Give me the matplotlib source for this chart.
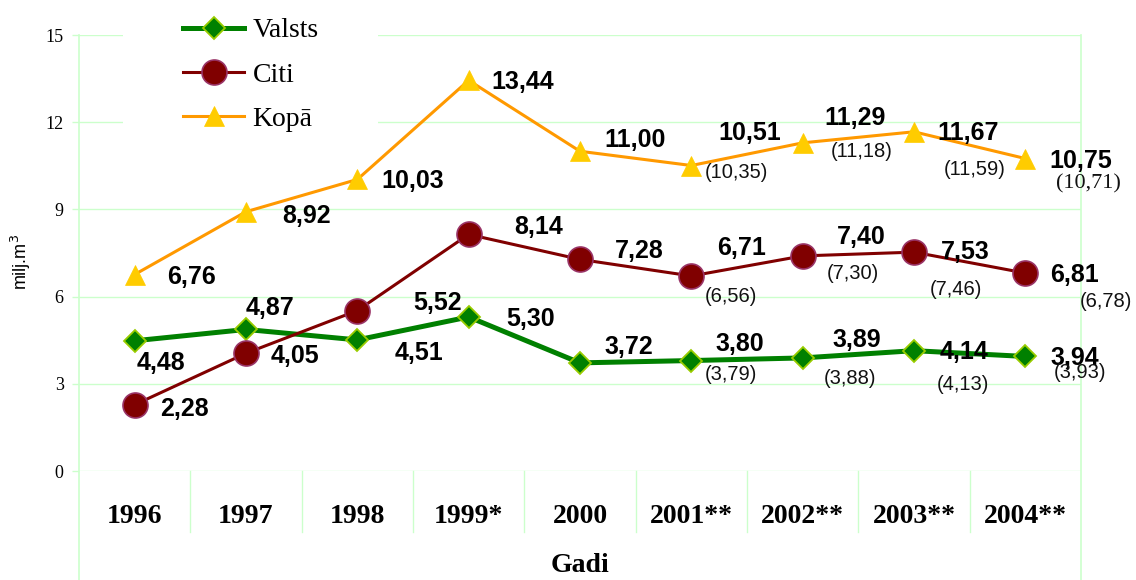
import numpy as np
import matplotlib
matplotlib.use('Agg')
import matplotlib.pyplot as plt
from matplotlib.patches import Rectangle

# dati
gadi = ['1996', '1997', '1998', '1999*', '2000', '2001**', '2002**', '2003**', '2004**']
valsts = [4.48, 4.87, 4.51, 5.30, 3.72, 3.80, 3.89, 4.14, 3.94]
citi = [2.28, 4.05, 5.52, 8.14, 7.28, 6.71, 7.40, 7.53, 6.81]
kopa = [6.76, 8.92, 10.03, 13.44, 11.00, 10.51, 11.29, 11.67, 10.75]
# vertibas iekavas (2001-2004)
valsts_iek = [None, None, None, None, None, 3.79, 3.88, 4.13, 3.93]
citi_iek = [None, None, None, None, None, 6.56, 7.30, 7.46, 6.78]
kopa_iek = [None, None, None, None, None, 10.35, 11.18, 11.59, 10.71]

# uzrakstu nobidijumi (pikseli)
off_valsts = [(26, -22), (24, 21), (62, -13), (62, -2), (49, 16), (48, 17), (54, 18), (50, -1), (49, -2)]
off_citi = [(50, -4), (49, -3), (80, 8), (70, 7), (59, 8), (50, 28), (59, 19), (51, 0), (49, -2)]
off_kopa = [(57, -2), (61, -4), (55, -2), (54, -2), (55, 11), (58, 33), (52, 25), (54, -1), (55, -2)]
off_valsts_iek = [None] * 5 + [(40, -14), (47, -20), (49, -34), (55, -16)]
off_citi_iek = [None] * 5 + [(40, -16), (50, -15), (42, -35), (81, -28)]
off_kopa_iek = [None] * 5 + [(45, -2), (59, -5), (61, -35), (63, -24)]

grid_c = '#ccffcc'

fig = plt.figure(figsize=(11.36, 5.8), dpi=100)
ax = fig.add_axes([79 / 1136, 1 - 471 / 580, 1002 / 1136, 436 / 580])

x = np.arange(len(gadi))

ax.plot(x, valsts, color='#008000', lw=3.6, marker='D', ms=11.5, mfc='#008000',
        mec='#99cc00', mew=1.3, label='Valsts', zorder=3)
ax.plot(x, citi, color='#800000', lw=2.2, marker='o', ms=18, mfc='#800000',
        mec='#993366', mew=1.2, label='Citi', zorder=3)
ax.plot(x, kopa, color='#ff9900', lw=2.2, marker='^', ms=15, mfc='#ffcc00',
        mec='#ffcc00', mew=0.5, label='Kopā', zorder=3)

def fmt(v):
    return ('%.2f' % v).replace('.', ',')

for vals, offs in [(valsts, off_valsts), (citi, off_citi), (kopa, off_kopa)]:
    for i, v in enumerate(vals):
        ax.annotate(fmt(v), (i, v), xytext=offs[i], textcoords='offset pixels',
                    ha='center', va='center', fontsize=18, fontweight='bold',
                    family='Liberation Sans', zorder=5, annotation_clip=False)

for vals, offs in [(valsts_iek, off_valsts_iek), (citi_iek, off_citi_iek), (kopa_iek, off_kopa_iek)]:
    for i, v in enumerate(vals):
        if v is None:
            continue
        fam = 'Liberation Serif' if (vals is kopa_iek and i == len(vals) - 1) else 'Liberation Sans'
        fs = 16 if fam == 'Liberation Serif' else 14.5
        ax.annotate('(' + fmt(v) + ')', (i, v), xytext=offs[i], textcoords='offset pixels',
                    ha='center', va='center', fontsize=fs, family=fam, color='#111111',
                    zorder=5, annotation_clip=False)

ax.set_xlim(-0.5, len(gadi) - 0.5)
ax.set_ylim(0, 15)
ax.set_yticks(np.arange(0, 16, 3))
ax.set_xticks(x)
ax.set_xticklabels(gadi, family='Liberation Serif', fontsize=20, fontweight='bold')
for lab in ax.get_yticklabels():
    lab.set_family('Liberation Serif')
    lab.set_fontsize(13)
ax.tick_params(axis='x', length=0, pad=24)
ax.tick_params(axis='y', length=5, width=1, color=grid_c, pad=6)
ax.grid(axis='y', color=grid_c, lw=1)
ax.set_axisbelow(True)
for s in ax.spines.values():
    s.set_visible(False)

# tabulas linijas zem ass
tr = ax.get_xaxis_transform()
for k in range(len(gadi) + 1):
    xb = k - 0.5
    if k == 0 or k == len(gadi):
        ax.plot([xb, xb], [1, -0.25], color=grid_c, lw=1.2, transform=tr, clip_on=False)
    else:
        ax.plot([xb, xb], [0, -0.14], color=grid_c, lw=1, transform=tr, clip_on=False)

ax.set_ylabel('milj.m$^3$', fontsize=13, family='Liberation Sans')
ax.yaxis.set_label_coords(-0.046, 0.48)

fig.text(580 / 1136, 1 - 566 / 580, 'Gadi', ha='center', va='center',
         fontsize=20, fontweight='bold', family='Liberation Serif')

# legenda ar baltu fonu
fig.patches.append(Rectangle((123 / 1136, 1 - 140 / 580), 255 / 1136, 140 / 580,
                             transform=fig.transFigure, facecolor='white',
                             edgecolor='none', zorder=2))
leg = fig.legend(loc='upper left', bbox_to_anchor=(183 / 1136, 1 - 18 / 580),
                 frameon=False, borderpad=0, borderaxespad=0, handlelength=2.2,
                 handletextpad=0.3, labelspacing=0.68,
                 prop={'family': 'Liberation Serif', 'size': 20})
leg.set_zorder(6)

fig.savefig('out.png', dpi=100)
